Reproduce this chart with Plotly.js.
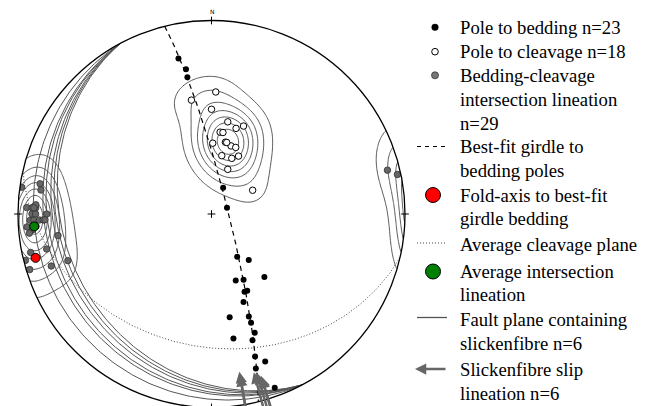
<!DOCTYPE html>
<html><head><meta charset="utf-8">
<script src="https://cdn.plot.ly/plotly-3.0.1.min.js"></script>
<style>html,body{margin:0;padding:0;background:#fff}#chart{width:654px;height:406px}</style>
</head><body><div id="chart"></div>
<script>
// ---------------- DATA (trend / plunge in degrees, lower hemisphere) ----------------
const beddingTrend  = [348,350,350,24,68,149,141,140,160,154,157,155,160,170,160,160,160,170,162,163,160,164,160];
const beddingPlunge = [19,25,29,78,83,69,65,55,60,59,54,54,50,45,43,40,35,35,32,24,20,18,5];

const cleavageTrend  = [2,350,0,10,16,20,6,8,1,11,16,20,10,20,25,20,60,12];
const cleavagePlunge = [37,40,45,50,52,50,55,55,60,59,60,60,65,65,63,70,70,59];

const intersectionTrend  = [278,280,278,272,272,272,273,270,270,270,268,268,268,268,268,266,265,266,264,262,258,258,256,252,253,252,76,78,272];
const intersectionPlunge = [1,11,12,5,8,10,10,8,10,16,7,9,12,14,15,5,8,10,6,21,14,5,1,14,2,23,7,2,9];

const foldAxis        = [256, 7];   // trend, plunge
const avgIntersection = [266, 9];   // trend, plunge
const girdlePlane     = [76, 83];   // dip direction, dip
const avgCleavagePlane= [193, 32];  // dip direction, dip

const faultDipDir = [242,242,242,242,242,242];
const faultDip    = [10,16,18,21,23,25];

const slickTrend  = [170,170,165,164,163,163];
const slickPlunge = [8,6,6,5,3,2];

const legendEntries = [
  ["Pole to bedding n=23"],
  ["Pole to cleavage n=18"],
  ["Bedding-cleavage","intersection lineation","n=29"],
  ["Best-fit girdle to","bedding poles"],
  ["Fold-axis to best-fit","girdle bedding"],
  ["Average cleavage plane"],
  ["Average intersection","lineation"],
  ["Fault plane containing","slickenfibre n=6"],
  ["Slickenfibre slip","lineation n=6"]
];

// ---------------- PROJECTION (equal-area, lower hemisphere) ----------------
const D2R = Math.PI/180;
function lineVec(tr, pl){ const t=tr*D2R, p=pl*D2R; return [Math.cos(p)*Math.sin(t), Math.cos(p)*Math.cos(t), Math.sin(p)]; }
function projVec(v){ let e=v[0], n=v[1], d=v[2]; if(d<0){e=-e;n=-n;d=-d;} const k=1/Math.sqrt(1+d); return [e*k, n*k]; }
function projLines(trs, pls){ const x=[], y=[]; trs.forEach((t,i)=>{ const p=projVec(lineVec(t,pls[i])); x.push(p[0]); y.push(p[1]); }); return {x, y}; }
function greatCircle(dipDir, dip){
  const s=(dipDir-90)*D2R, dd=dipDir*D2R, dp=dip*D2R;
  const sv=[Math.sin(s),Math.cos(s),0], dv=[Math.cos(dp)*Math.sin(dd),Math.cos(dp)*Math.cos(dd),Math.sin(dp)];
  const x=[], y=[];
  for(let a=0;a<=180;a+=1){
    const c=Math.cos(a*D2R), sn=Math.sin(a*D2R);
    const p=projVec([c*sv[0]+sn*dv[0], c*sv[1]+sn*dv[1], Math.max(0, sn*dv[2])]);
    x.push(p[0]); y.push(p[1]);
  }
  return {x, y};
}
function densityGrid(trs, pls, kappa, gx, gy){
  const vs = trs.map((t,i)=>lineVec(t,pls[i]));
  const z=[]; let mx=0;
  for(const y of gy){ const row=[];
    for(const x of gx){
      const r2=x*x+y*y; let e,n,d;
      if(r2<=1){ d=1-r2; const s=Math.sqrt(2-r2); e=x*s; n=y*s; }
      else { const r=Math.sqrt(r2); e=x/r; n=y/r; d=0; }
      let sum=0;
      for(const v of vs){ const c=Math.abs(e*v[0]+n*v[1]+d*v[2]); sum+=Math.exp(kappa*(c-1)); }
      row.push(sum); if(sum>mx) mx=sum;
    }
    z.push(row);
  }
  return z.map(r=>r.map(v=>v/mx));
}

const gx=[], gy=[];
for(let v=-1.05; v<=1.0501; v+=0.012){ gx.push(v); gy.push(v); }

const traces = [];
function contourTrace(z, start, size){
  return {type:'contour', x:gx, y:gy, z:z, showscale:false, hoverinfo:'skip',
    colorscale:[[0,'#4a4a4a'],[1,'#4a4a4a']],
    contours:{coloring:'lines', start:start, end:0.95, size:size},
    line:{width:0.9, smoothing:1}};
}
traces.push(contourTrace(densityGrid(cleavageTrend, cleavagePlunge, 55, gx, gy), 0.1, 0.13));
traces.push(contourTrace(densityGrid(intersectionTrend, intersectionPlunge, 55, gx, gy), 0.1, 0.13));

// fault planes
faultDipDir.forEach((dd,i)=>{ const g=greatCircle(dd, faultDip[i]);
  traces.push({type:'scatter', mode:'lines', x:g.x, y:g.y, line:{color:'#555', width:1}, hoverinfo:'skip'}); });
// average cleavage plane (dotted)
{ const g=greatCircle(avgCleavagePlane[0], avgCleavagePlane[1]);
  traces.push({type:'scatter', mode:'lines', x:g.x, y:g.y, line:{color:'#444', width:1, dash:'1px,2px'}, hoverinfo:'skip'}); }
// best-fit girdle (dashed)
{ const g=greatCircle(girdlePlane[0], girdlePlane[1]);
  traces.push({type:'scatter', mode:'lines', x:g.x, y:g.y, line:{color:'#000', width:1.2, dash:'5px,4px'}, hoverinfo:'skip'}); }

// points
{ const p=projLines(intersectionTrend, intersectionPlunge);
  traces.push({type:'scatter', mode:'markers', x:p.x, y:p.y, marker:{size:6.5, color:'#666', line:{color:'#333', width:0.8}}}); }
{ const p=projLines([avgIntersection[0]],[avgIntersection[1]]);
  traces.push({type:'scatter', mode:'markers', x:p.x, y:p.y, marker:{size:9, color:'#008000', line:{color:'#000', width:1}}}); }
{ const p=projLines([foldAxis[0]],[foldAxis[1]]);
  traces.push({type:'scatter', mode:'markers', x:p.x, y:p.y, marker:{size:9, color:'#ff0000', line:{color:'#000', width:1}}}); }
{ const p=projLines(cleavageTrend, cleavagePlunge);
  traces.push({type:'scatter', mode:'markers', x:p.x, y:p.y, marker:{size:6.5, color:'#fff', line:{color:'#000', width:1}}}); }
{ const p=projLines(beddingTrend, beddingPlunge);
  traces.push({type:'scatter', mode:'markers', x:p.x, y:p.y, marker:{size:6, color:'#000', line:{width:0}}}); }

// ---------------- LAYOUT ----------------
const W=654, H=406, CX=211.5, CY=214, R=193.5;
const xr=[-CX/R, (W-CX)/R], yr=[-(H-CY)/R, CY/R];
const px2paper=(px,py)=>[px/W, 1-py/H];

const shapes=[];
let path='M -1.1,-1.0 L 1.1,-1.0 L 1.1,1.12 L -1.1,1.12 Z M 1,0';
for(let a=1;a<=360;a++){ path+=' L '+Math.cos(-a*D2R).toFixed(5)+','+Math.sin(-a*D2R).toFixed(5); }
path+=' Z';
shapes.push({type:'path', path:path, fillcolor:'#fff', line:{width:0}, fillrule:'evenodd', layer:'above', xref:'x', yref:'y'});
shapes.push({type:'circle', xref:'x', yref:'y', x0:-1, x1:1, y0:-1, y1:1, line:{color:'#000', width:1.3}, layer:'above'});
const tk=0.02;
[[0,1,'v'],[0,-1,'v'],[1,0,'h'],[-1,0,'h']].forEach(([x,y,o])=>{
  shapes.push(o==='v' ? {type:'line',xref:'x',yref:'y',x0:x,x1:x,y0:y-tk,y1:y+tk,line:{color:'#000',width:1},layer:'above'}
                      : {type:'line',xref:'x',yref:'y',x0:x-tk,x1:x+tk,y0:y,y1:y,line:{color:'#000',width:1},layer:'above'});
});
shapes.push({type:'line',xref:'x',yref:'y',x0:-tk,x1:tk,y0:0,y1:0,line:{color:'#000',width:1},layer:'above'});
shapes.push({type:'line',xref:'x',yref:'y',x0:0,x1:0,y0:-tk,y1:tk,line:{color:'#000',width:1},layer:'above'});

function legCircle(px,py,r,fill,lc,lw){ const [a,b]=px2paper(px,py);
  shapes.push({type:'circle',xref:'paper',yref:'paper',xsizemode:'pixel',ysizemode:'pixel',xanchor:a,yanchor:b,x0:-r,x1:r,y0:-r,y1:r,fillcolor:fill,line:{color:lc,width:lw},layer:'above'}); }
function legLine(py,color,width,dash){ const [a,b]=px2paper(417,py); const [c]=px2paper(447,py);
  shapes.push({type:'line',xref:'paper',yref:'paper',x0:a,x1:c,y0:b,y1:b,line:{color:color,width:width,dash:dash},layer:'above'}); }
legCircle(435,27.3,3.3,'#000','#000',0.5);
legCircle(435,51.7,3.3,'#fff','#000',1);
legCircle(435,75.3,3.5,'#777','#333',0.8);
legLine(146.5,'#000',1.2,'4px,4px');
legCircle(433,195,7.5,'#ff0000','#000',1);
legLine(243,'#444',1,'1px,2px');
legCircle(433,271.5,7.5,'#008000','#000',1);
legLine(317.5,'#555',1.3,'solid');

const FONT = 'Liberation Serif';
const annotations=[];
annotations.push({xref:'x',yref:'y',x:0.005,y:1.045,text:'N',showarrow:false,font:{family:'DejaVu Sans',size:6,color:'#000'}});
const entryY=[27.3,51.7,75.5,146.7,195,244,271,319.5,369.5], lineGap=23.8;
legendEntries.forEach((lines,i)=>{ lines.forEach((t,j)=>{ const [a,b]=px2paper(458,entryY[i]+j*lineGap);
  annotations.push({xref:'paper',yref:'paper',x:a,y:b,xanchor:'left',yanchor:'middle',text:t,showarrow:false,
    font:{family:FONT,size:18.7,color:'#000'}}); }); });
{ const [a,b]=px2paper(415,369);
  annotations.push({xref:'paper',yref:'paper',x:a,y:b,text:'',showarrow:true,ax:32,ay:0,arrowhead:2,arrowsize:0.9,arrowwidth:2.5,arrowcolor:'#666'}); }

{ const p=projLines(slickTrend, slickPlunge); const L=0.2;
  p.x.forEach((x,i)=>{ const y=p.y[i], r=Math.hypot(x,y), ux=-x/r, uy=-y/r;
    annotations.push({xref:'x',yref:'y',axref:'x',ayref:'y',x:x+ux*L/2,y:y+uy*L/2,ax:x-ux*L/2,ay:y-uy*L/2,
      text:'',showarrow:true,arrowhead:2,arrowsize:0.9,arrowwidth:2.5,arrowcolor:'#666'}); }); }

const layout={width:W,height:H,margin:{l:0,r:0,t:0,b:0},paper_bgcolor:'#fff',plot_bgcolor:'#fff',showlegend:false,
  xaxis:{range:xr,visible:false,fixedrange:true},yaxis:{range:yr,visible:false,fixedrange:true},
  shapes:shapes,annotations:annotations,hovermode:false};
Plotly.newPlot('chart',traces,layout,{staticPlot:true,displayModeBar:false});
</script></body></html>
